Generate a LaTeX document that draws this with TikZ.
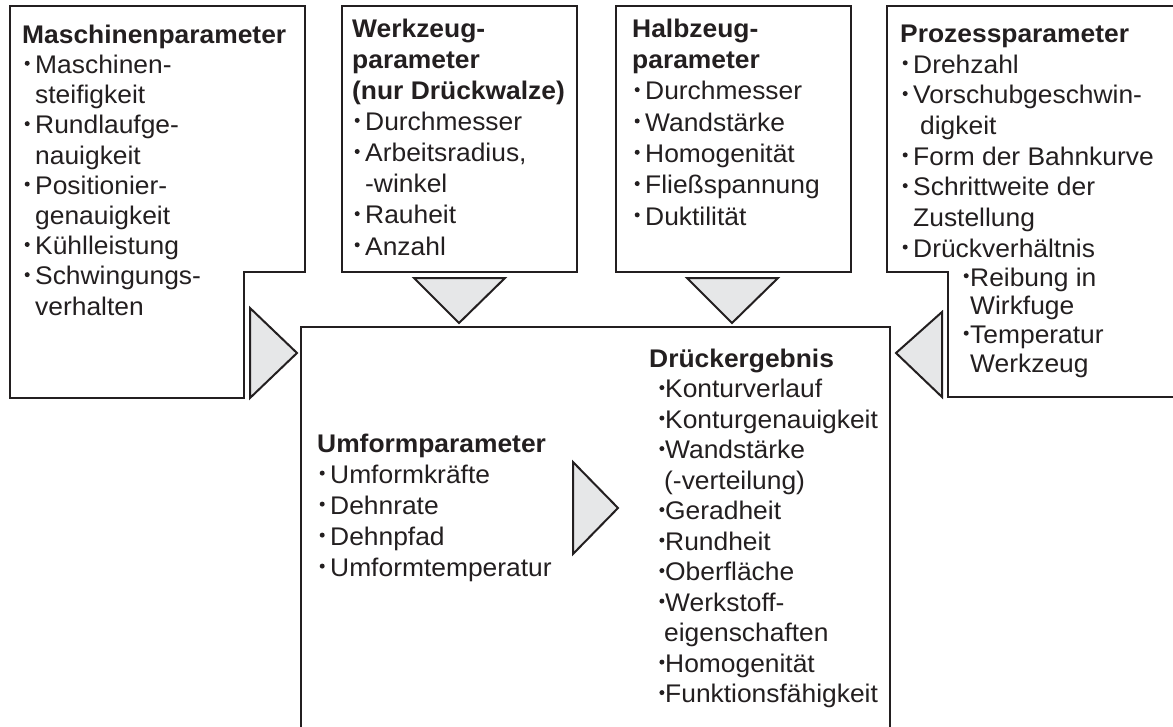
\documentclass[tikz,border=0pt]{standalone}
\usepackage{fontspec}
\setmainfont{Liberation Sans}[FakeStretch=1.035]
\definecolor{ink}{HTML}{231F20}
\definecolor{tri}{HTML}{E6E7E8}
\newcommand\bul[2]{\makebox[#2][l]{\hspace*{#1}\tikz[baseline=0pt]\fill[ink] (2.5pt,10.3pt) circle[radius=2.5pt];}}
\newcommand\bitem{\bul{2.5pt}{13pt}}
\newcommand\cont{\hspace*{13pt}}
\newcommand\ditem{\bul{10.2pt}{16pt}}
\newcommand\dcont{\hspace*{15pt}}
\begin{document}
\begin{tikzpicture}[x=1pt,y=-1pt,
  frame/.style={draw=ink,line width=2.2pt,line join=miter},
  arrowtri/.style={draw=ink,fill=tri,line width=2pt,line join=miter},
  txt/.style={anchor=north west,inner sep=0pt,align=left,text=ink},
  ]
\useasboundingbox (0,0) rectangle (1173,726);
\fill[white] (0,0) rectangle (1173,726);

% frames
\draw[frame] (10,6) -- (305,6) -- (305,272) -- (244,272) -- (244,398) -- (10,398) -- cycle;
\draw[frame] (342,6) rectangle (577,272);
\draw[frame] (616,6) rectangle (851,272);
\draw[frame] (1185,6) -- (887,6) -- (887,272) -- (948,272) -- (948,397) -- (1185,397);
\draw[frame] (301,740) -- (301,327) -- (890,327) -- (890,740);

% triangles
\draw[arrowtri] (250,308) -- (297,353) -- (250,398) -- cycle;
\draw[arrowtri] (414,278) -- (505,278) -- (459,323) -- cycle;
\draw[arrowtri] (687,278) -- (778,278) -- (732,323) -- cycle;
\draw[arrowtri] (942,312) -- (896,353) -- (942,397) -- cycle;
\draw[arrowtri] (573,462) -- (618,508) -- (573,554) -- cycle;

% texts
\node[txt,font=\fontsize{25.5}{30.2}\selectfont] (m) at (22,24.7) {\textbf{Maschinenparameter}\\
\bitem Maschinen-\\
\cont steifigkeit\\
\bitem Rundlaufge-\\
\cont nauigkeit\\
\bitem Positionier-\\
\cont genauigkeit\\
\bitem Kühlleistung\\
\bitem Schwingungs-\\
\cont verhalten};

\node[txt,font=\fontsize{25.5}{31.1}\selectfont] (w) at (352,18.7) {\textbf{Werkzeug-}\\
\textbf{parameter}\\
\textbf{(nur Drückwalze)}\\
\bitem Durchmesser\\
\bitem Arbeitsradius,\\
\cont -winkel\\
\bitem Rauheit\\
\bitem Anzahl};

\node[txt,font=\fontsize{25.5}{31.3}\selectfont] (h) at (632,18.7) {\textbf{Halbzeug-}\\
\textbf{parameter}\\
\bitem Durchmesser\\
\bitem Wandstärke\\
\bitem Homogenität\\
\bitem Fließspannung\\
\bitem Duktilität};

\node[txt,font=\fontsize{25.5}{30.7}\selectfont] (p) at (900,24.7) {\textbf{Prozessparameter}\\
\bitem Drehzahl\\
\bitem Vorschubgeschwin-\\
\hspace*{20pt}digkeit\\
\bitem Form der Bahnkurve\\
\bitem Schrittweite der\\
\cont Zustellung\\
\bitem Drückverhältnis\\[-2pt]
\hspace*{62pt}\bul{1.5pt}{8pt}Reibung in\\[-2pt]
\hspace*{70pt}Wirkfuge\\[-2pt]
\hspace*{62pt}\bul{1.5pt}{8pt}Temperatur\\[-2pt]
\hspace*{70pt}Werkzeug};

\node[txt,font=\fontsize{25.5}{31}\selectfont] (u) at (317,433.7) {\textbf{Umformparameter}\\
\bitem Umformkräfte\\
\bitem Dehnrate\\
\bitem Dehnpfad\\
\bitem Umformtemperatur};

\node[txt,font=\fontsize{25.5}{30.5}\selectfont] (d) at (649,348.7) {\textbf{Drückergebnis}\\
\ditem Konturverlauf\\
\ditem Konturgenauigkeit\\
\ditem Wandstärke\\
\dcont (-verteilung)\\
\ditem Geradheit\\
\ditem Rundheit\\
\ditem Oberfläche\\
\ditem Werkstoff-\\
\dcont eigenschaften\\
\ditem Homogenität\\
\ditem Funktionsfähigkeit};
\end{tikzpicture}
\end{document}
